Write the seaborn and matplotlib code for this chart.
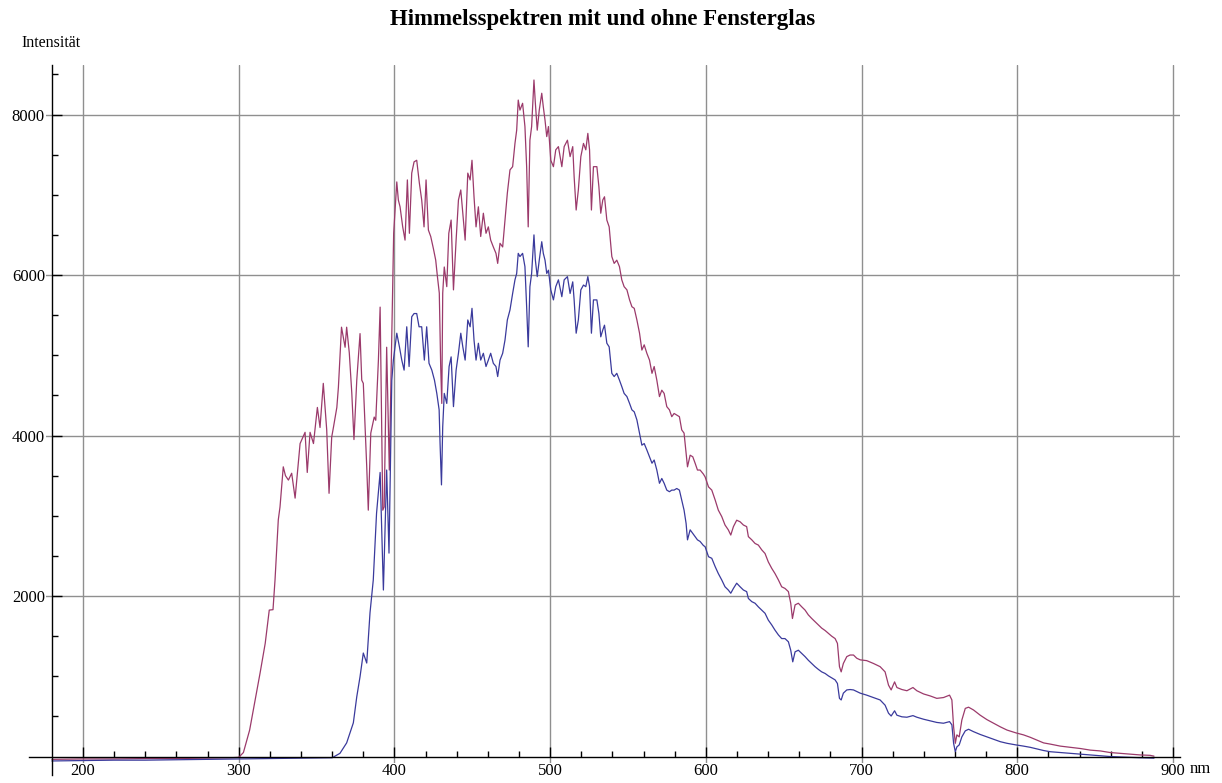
import matplotlib
matplotlib.use("Agg")
import matplotlib.pyplot as plt
import seaborn as sns
import numpy as np
import pandas as pd

# ---- data ----
red_nm = [180, 200, 220, 240, 260, 280, 295, 300, 303, 307, 313.7, 317, 319.6, 322, 323.3, 325.4, 326.5, 328.6,
          330, 331.9, 334, 336.2, 339.4, 342.6, 344, 345.8, 348, 350.5, 352.2, 354.3, 356.5, 358, 359.7, 360.8,
          363, 364, 366, 368.3, 369.3, 371, 372.6, 374, 375.8, 377.9, 379, 380, 382.2, 383.2, 384.8, 387, 388,
          389.7, 390.8, 392.5, 393.4, 395, 396.7, 398.9, 399.5,
          400.4, 401.5, 402.5, 403.6, 405.3, 406.8, 408.3, 409.6, 411.1, 412.6, 414.3, 416, 417.5, 419, 420.3,
          421.8, 423.3, 425, 426.5, 427.6, 428.8, 429.7, 430.4, 431, 432, 433.6, 434.9, 436.4, 437.9, 439.6,
          441.1, 442.6, 443.9, 445.4, 447.1, 448.6, 449.8, 451.1, 452.4, 453.9, 455.4, 457.1, 458.8, 460.3,
          461.8, 463.5, 465.2, 466.3, 467.8, 469.5, 471, 472.5, 474.2, 475.9, 477.4, 478.5, 479.5, 480.6,
          482.3, 483.8, 484.9, 485.9, 487, 488.1, 489.6, 490.5, 491.7, 493, 494.6, 495.6, 496.7, 497.8, 498.9,
          500.4, 502.1, 503.6, 505.3,
          507.5, 509, 511.1, 512.8, 514.5, 515.4, 516.7, 518.1, 519.7, 521.4, 522.9, 524.2, 525.3, 526.5,
          527.8, 530, 531.3, 532.5, 533.8, 534.9, 536.4, 537.9, 539.6, 541.1, 542.8, 544.5, 546, 547.5, 549.3,
          551, 552.5, 554, 555.7, 557.4, 558.9, 560.4, 562.1, 563.8, 565.4, 566.8, 568.5, 570.2, 571.7, 573.2,
          574.9, 576.6, 578.1, 579.6, 581.3, 583, 584.5, 586, 587.3, 588.2, 589.9, 591.6, 593.1, 594.6, 596.3,
          598.4, 599.5, 601.7, 603.8, 606, 608, 610.2, 612.3, 614.4, 616, 617.7, 619.8, 622, 624.1, 626.2,
          627.3, 629.5, 631.6, 633.7, 635.9, 638, 640.1, 642.3, 644.4, 646.6, 648.7, 650.8, 653, 654.5, 655.6,
          657.3, 659.4, 661.6, 663.7, 665.8, 668, 670.1, 672.3, 674.4, 676.6, 678.7, 680.8, 683, 684.5, 685.8,
          686.9, 688.3, 690.5, 692.6, 694.8, 696.9, 699.1, 703.3, 707.6, 711.9, 715.1, 717.3, 719, 721.2,
          722.7, 725.9, 729.1, 733, 735.5, 739.8, 744.1, 748.3, 752.6, 756.5, 758, 759.1, 760.2, 761.2, 762.7,
          764.4, 766.6, 768.7, 771.9, 776.2, 780.5, 784.8, 789.1, 793.4, 799.1, 804, 808.3, 812.6, 816.9,
          821.2, 827.6, 834, 840.5, 846.9, 853.3, 859.6, 866, 872.4, 878.9, 885.3, 887.8]
red_int = [-35, -30, -30, -25, -25, -20, -15, -10, 50, 330, 1040, 1410, 1825, 1830, 2200, 2950, 3110, 3610,
           3500, 3445, 3530, 3220, 3900, 4040, 3540, 4040, 3900, 4350, 4100, 4650, 4070, 3280, 3980, 4100,
           4350, 4600, 5350, 5100, 5350, 5030, 4530, 3950, 4690, 5270, 4690, 4650, 3610, 3070, 4030, 4230, 4190,
           4940, 5600, 3070, 3110, 5100, 3570, 5940, 6520,
           6810, 7160, 6935, 6850, 6600, 6435, 7185, 6520, 7270, 7410, 7430, 7145, 6935, 6600, 7185,
           6560, 6480, 6330, 6185, 5980, 5775, 4860, 4400, 5775, 6100, 5855, 6520, 6685, 5815, 6435,
           6935, 7060, 6770, 6435, 7270, 7185, 7430, 6975, 6600, 6850, 6480, 6770, 6520, 6600,
           6435, 6350, 6270, 6145, 6395, 6350, 6685, 7020, 7310, 7350, 7640, 7805, 8180, 8055,
           8140, 7850, 7350, 6600, 7680, 7850, 8430, 8140, 7805, 8055, 8265, 8095, 7930, 7725, 7850,
           7430, 7350, 7560, 7600,
           7350, 7600, 7680, 7475, 7600, 7225, 6810, 7060, 7475, 7640, 7560, 7765, 7560, 6810,
           7350, 7350, 7100, 6770, 6935, 6975, 6685, 6600, 6230, 6145, 6185, 6105, 5940, 5855, 5815,
           5690, 5605, 5585, 5440, 5275, 5065, 5130, 5025, 4940, 4775, 4860, 4690, 4485, 4565, 4525,
           4360, 4320, 4235, 4275, 4255, 4235, 4070, 4030, 3780, 3610, 3755, 3735, 3655, 3570, 3570,
           3520, 3485, 3360, 3320, 3195, 3070, 2990, 2885, 2825, 2760, 2865, 2945, 2925, 2885, 2865,
           2740, 2700, 2655, 2635, 2575, 2530, 2425, 2345, 2280, 2200, 2115, 2095, 2055, 1910, 1720,
           1890, 1910, 1865, 1825, 1765, 1720, 1680, 1640, 1600, 1570, 1535, 1500, 1470, 1410, 1120,
           1055, 1160, 1245, 1265, 1265, 1225, 1205, 1195, 1160, 1120, 1055, 890, 830, 930,
           860, 835, 820, 860, 820, 780, 755, 725, 735, 765, 705, 370, 165, 270, 245,
           455, 600, 615, 580, 515, 460, 415, 370, 330, 295, 270, 240, 205, 170,
           155, 130, 115, 100, 80, 70, 50, 40, 30, 20, 15, 5]

blue_nm = [180, 200, 220, 240, 260, 280, 300, 320, 340, 360, 365, 369.3, 373.6, 375.8, 377.9, 380, 382.2, 384.3,
           386.4, 388.5, 390.8, 392.9, 395, 396.5, 398.3, 399.3, 401.5, 403.2, 404.7, 406.2, 407.9, 409.4,
           411.1, 412.6, 414.3, 415.8, 417.5, 419.2, 420.7, 422.2, 424, 425.7, 427.2, 428.7, 429.3, 430.2, 431,
           432, 433.6, 435.1, 436.4, 437.9, 439.6, 441.1, 442.6, 443.9, 445.4, 447.1, 448.6, 449.8, 451.1,
           452.4, 453.9, 455.4, 457.1, 458.8, 460.3, 461.8, 463.5, 465.2, 466.3, 467.8, 469.5, 471, 472.5,
           474.2, 475.9, 477.4, 478.5, 479.5, 480.6, 482.3, 483.8, 484.9, 485.9, 487, 488.1, 489.6, 490.5,
           491.7, 493, 494.6, 495.6, 496.7, 497.8, 498.9, 500.4, 502.1, 503.6, 505.3, 507.5, 509, 511.1,
           512.8, 514.5, 515.4, 516.7, 518.1, 519.7, 521.4, 522.9, 524.2, 525.3, 526.5, 527.8, 530, 531.3,
           532.5, 533.8, 534.9, 536.4, 537.9, 539.6, 541.1, 542.8, 544.5, 546, 547.5, 549.3, 551, 552.5, 554,
           555.7, 557.4, 558.9, 560.4, 562.1, 563.8, 565.4, 566.8, 568.5, 570.2, 571.7, 573.2, 574.9, 576.6,
           578.1, 579.6, 581.3, 583, 584.5, 586, 587.3, 588.2, 589.9, 591.6, 593.1, 594.6, 596.3, 598.4,
           599.5, 601.7, 603.8, 606, 608, 610.2, 612.3, 614.4, 616, 617.7, 619.8, 622, 624.1, 626.2, 627.3,
           629.5, 631.6, 633.7, 635.9, 638, 640.1, 642.3, 644.4, 646.6, 648.7, 650.8, 653, 654.5, 655.8,
           657.3, 659.4, 661.6, 663.7, 665.8, 668, 670.1, 672.3, 674.4, 676.6, 678.7, 680.8, 683, 684.5,
           685.8, 686.9, 688.3, 690.5, 692.6, 694.8, 696.9, 699.1, 703.3, 707.6, 711.9, 715.1, 717.3, 719,
           721.2, 722.7, 725.9, 729.1, 733, 735.5, 739.8, 744.1, 748.3, 752.6, 756.5, 758, 759.1, 760.2,
           761.2, 762.7, 764.4, 766.6, 768.7, 771.9, 776.2, 780.5, 784.8, 789.1, 793.4, 799.1, 804, 808.3,
           812.6, 816.9, 821.2, 827.6, 834, 840.5, 846.9, 853.3, 859.6, 866, 872.4, 878.9, 887.8]
blue_int = [-55, -50, -45, -45, -40, -35, -30, -25, -20, -15, 40, 170, 420, 745, 995, 1290, 1165, 1790,
            2200, 3030, 3540, 2075, 3570, 2535, 4690, 4940, 5275, 5105, 4940, 4815, 5355, 4860,
            5480, 5520, 5520, 5355, 5355, 4940, 5355, 4900, 4815, 4690, 4525, 4320, 3900, 3385, 4110,
            4525, 4400, 4860, 4980, 4360, 4815, 5025, 5275, 5105, 4940, 5440, 5355, 5585, 5190,
            4940, 5150, 4940, 5025, 4860, 4940, 5025, 4900, 4860, 4735, 4940, 5025, 5190, 5440,
            5565, 5770, 5940, 6020, 6270, 6230, 6270, 6105, 5605, 5105, 5855, 6020, 6500, 6185,
            5980, 6185, 6415, 6270, 6185, 6020, 6060, 5815, 5690, 5855, 5940, 5730, 5940, 5980,
            5770, 5915, 5690, 5275, 5440, 5815, 5875, 5855, 5980, 5855, 5275, 5690, 5690, 5520,
            5230, 5315, 5375, 5150, 5105, 4775, 4735, 4775, 4690, 4610, 4525, 4485, 4400, 4320, 4295,
            4195, 4030, 3880, 3900, 3820, 3735, 3655, 3695, 3570, 3405, 3465, 3405, 3320, 3300,
            3320, 3320, 3340, 3320, 3195, 3070, 2905, 2700, 2825, 2780, 2740, 2700, 2680, 2630,
            2615, 2490, 2470, 2365, 2280, 2200, 2115, 2075, 2035, 2095, 2160, 2115, 2075, 2055, 1970,
            1930, 1910, 1865, 1825, 1785, 1700, 1640, 1575, 1515, 1470, 1470, 1430, 1325, 1180,
            1305, 1325, 1285, 1245, 1200, 1160, 1120, 1085, 1055, 1035, 1005, 980, 955, 910,
            725, 705, 790, 830, 835, 830, 810, 790, 765, 735, 705, 640, 540, 505,
            570, 515, 495, 490, 510, 490, 465, 445, 425, 415, 435, 395, 165, 60,
            120, 145, 245, 320, 340, 310, 275, 245, 215, 185, 165, 145, 130, 115,
            95, 75, 60, 50, 40, 30, 20, 10, 0, -5, -10, -15, -20]

x_major = [200, 300, 400, 500, 600, 700, 800, 900]
y_major = [2000, 4000, 6000, 8000]

title = "Himmelsspektren mit und ohne Fensterglas"
ylabel = "Intensität"
xlabel = "nm"

red_color = "#9b3a6b"
blue_color = "#3a3a9c"

# ---- styling ----
sns.set_style("white")
plt.rcParams["font.family"] = ["Liberation Serif", "DejaVu Serif"]
plt.rcParams["text.color"] = "black"

W, H = 1222, 783
fig = plt.figure(figsize=(W / 100, H / 100), dpi=100)
ax = fig.add_axes([29 / W, 8 / H, (1180 - 29) / W, (775 - 65) / H])

df_red = pd.DataFrame({"nm": red_nm, "I": red_int})
df_blue = pd.DataFrame({"nm": blue_nm, "I": blue_int})
sns.lineplot(data=df_red, x="nm", y="I", ax=ax, color=red_color, lw=0.9, estimator=None, zorder=3)
sns.lineplot(data=df_blue, x="nm", y="I", ax=ax, color=blue_color, lw=0.9, estimator=None, zorder=3)

ax.set_xlim(165.3, 904.5)
ax.set_ylim(-230, 8617)

ax.set_xlabel("")
ax.set_ylabel("")

for s in ["top", "right"]:
    ax.spines[s].set_visible(False)
ax.spines["left"].set_position(("data", 180))
ax.spines["bottom"].set_position(("data", 0))
for s in ["left", "bottom"]:
    ax.spines[s].set_color("black")
    ax.spines[s].set_linewidth(1.0)
    ax.spines[s].set_zorder(4)

ax.set_xticks(x_major)
ax.set_xticklabels([str(v) for v in x_major])
ax.set_xticks([v for v in range(200, 901, 20) if v % 100 != 0], minor=True)
ax.set_yticks(y_major)
ax.set_yticklabels([str(v) for v in y_major])
ax.set_yticks([v for v in range(500, 8600, 500) if v % 2000 != 0], minor=True)

ax.tick_params(axis="x", which="both", bottom=True, top=False)
ax.tick_params(axis="y", which="both", left=True, right=False)
ax.tick_params(axis="x", which="major", direction="in", length=7, width=1, labelsize=12, pad=5,
               color="black", labelcolor="black")
ax.tick_params(axis="x", which="minor", direction="in", length=4.5, width=1, color="black")
ax.tick_params(axis="y", which="major", direction="in", length=7, width=1, labelsize=12, pad=5,
               color="black", labelcolor="black")
ax.tick_params(axis="y", which="minor", direction="in", length=4.5, width=1, color="black")

ax.grid(True, which="major", color="#8f8f8f", lw=1.0, zorder=1)
ax.set_axisbelow(True)

fig.text(603 / W, 1 - 20 / H, title, ha="center", va="center", fontsize=16.5, fontweight="bold",
         color="black")
fig.text(51 / W, 1 - 43 / H, ylabel, ha="center", va="center", fontsize=11.5, color="black")
fig.text(1190 / W, 1 - 769 / H, xlabel, ha="left", va="center", fontsize=12, color="black")

fig.canvas.draw()
for lbl in ax.get_xticklabels() + ax.get_yticklabels():
    lbl.set_bbox(dict(facecolor="white", edgecolor="none", pad=0.6))

fig.savefig("out.png", dpi=100)
